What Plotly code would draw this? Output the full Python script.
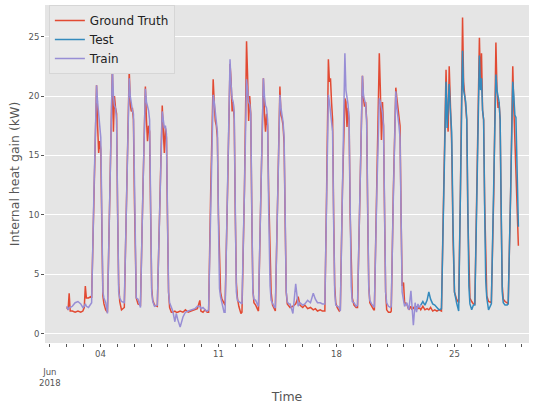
import pandas as pd
import plotly.graph_objects as go

START = pd.Timestamp("2018-06-02")
SPLIT_HOUR = 504  # train / test boundary (hours since START)

# hours since 2018-06-02 00:00
hours = [
    0, 2, 3.5, 5, 8, 12, 16, 20, 23, 25, 26.5, 28, 31, 34, 35.5,
    39, 42.5, 44, 45.5, 47, 48.5, 50, 51.5, 53, 55.5,
    58, 61.5, 65, 66.5, 68, 69.5, 71, 72.5, 74, 75.5, 78,
    82, 85.5, 89, 90.5, 92, 93.5, 95, 96.5, 97.5, 99, 101.5,
    105, 108.5, 112, 113.5, 115, 116.5, 118, 119.5, 121, 122.5, 125,
    129, 132.5, 136, 137.5, 139, 140.5, 142, 143.5, 145, 146.5, 149,
    151, 154, 156, 158, 161.5, 165.5, 169, 173, 177, 182.5, 186, 189.5, 191, 194, 197, 200, 202,
    205, 208.5, 210, 211.5, 213, 214.5, 216, 217.5, 219, 221, 224,
    225.5, 229, 232.5, 234, 235.5, 237, 238.5, 240, 241.5, 243, 245, 248,
    249.5, 253, 256, 257.5, 259, 260.5, 262, 263.5, 265, 266.5, 269, 272,
    273, 276.5, 280, 281.5, 283, 284.5, 286, 287.5, 289.5, 291, 293, 296,
    297, 300.5, 303.5, 305, 306.5, 308, 309.5, 311, 312.5, 314, 316,
    318, 322, 326, 329.5, 332, 336, 339, 343, 347, 351, 354, 357, 361, 364, 367.5,
    370, 372.5, 374, 375.5, 377, 378.5, 380, 381.5, 383, 385, 388,
    389.5, 392.5, 396, 397.5, 399, 400.5, 402, 403.5, 405, 406.5, 409, 412,
    414, 417.5, 421, 422.5, 424, 425.5, 427, 428.5, 430, 431.5, 434, 437,
    438, 441.5, 445, 446.5, 448, 449.5, 451, 452.5, 454, 455.5, 458, 461,
    462, 465, 468.5, 470, 471.5, 473, 474.5, 476, 477.5, 479.5, 481,
    484, 487, 490, 491.5, 493.5, 496, 498, 500, 502, 504, 507, 510, 513, 515.5, 518, 521, 524, 527, 530, 533.5,
    536, 540, 541.5, 543, 544.5, 546, 548, 550, 552, 555, 558,
    560.5, 563.5, 565, 566.5, 568, 569.5, 571, 572.5, 574, 576.5, 579,
    581, 584, 587.5, 589, 590.5, 592, 593.5, 595, 596.5, 598, 600.5,
    604.5, 608, 611, 612.5, 614, 615.5, 617, 618.5, 620, 621.5, 624, 627,
    628.5, 632, 635, 636.5, 638, 639.5, 641, 643,
]

ground_truth = [
    2.2, 2.0, 3.4, 1.9, 1.9, 1.8, 1.9, 1.8, 1.9, 2.2, 4.0, 3.0, 3.0, 3.1, 3.0,
    12, 20.9, 17.5, 15.2, 16.2, 15.5, 9.0, 3.2, 2.5, 2.0,
    1.8, 12, 22.4, 17.0, 20.0, 19.0, 18.5, 10, 4.1, 2.7, 2.0,
    2.2, 12, 22.2, 19.3, 18.7, 19.0, 18.0, 11, 6.7, 3.0, 2.5,
    2.4, 12, 20.8, 18.0, 16.2, 17.5, 17.0, 10, 3.8, 2.8, 2.4,
    2.3, 11.5, 19.2, 17.0, 15.2, 17.3, 16.5, 9.5, 3.5, 2.2, 1.8,
    1.8, 1.9, 1.8, 1.8, 1.9, 1.8, 2.0, 1.8, 1.9, 2.0, 2.1, 2.8, 1.9, 1.8, 2.0, 1.8, 1.8,
    12, 21.4, 19.5, 17.9, 17.5, 16.5, 10, 5.0, 3.5, 2.9, 2.5,
    2.4, 12, 22.7, 21.3, 18.7, 19.5, 18.0, 10, 4.3, 3.0, 2.3, 1.7,
    1.8, 12, 24.6, 21.7, 17.9, 20.0, 18.5, 10, 3.8, 2.6, 2.4, 2.0,
    1.9, 12, 21.5, 18.5, 17.0, 18.5, 17.5, 12, 7.4, 3.5, 2.4, 1.9,
    1.9, 12, 20.8, 18.4, 18.1, 17.5, 16.0, 9.5, 3.5, 2.5, 2.3,
    2.2, 2.3, 2.5, 3.1, 2.4, 2.2, 2.4, 2.1, 2.2, 2.0, 2.1, 1.9, 2.0, 1.9, 1.9,
    12, 23.1, 21.2, 21.5, 19.5, 18.0, 10, 4.0, 2.6, 2.2, 1.9,
    2.0, 12, 19.8, 19.5, 17.4, 19.0, 18.0, 10, 5.2, 3.0, 2.4, 2.2,
    2.2, 12, 21.7, 19.8, 19.1, 19.5, 18.0, 10, 4.0, 2.6, 2.3, 2.0,
    2.0, 12, 23.6, 20.5, 16.3, 19.5, 17.5, 10, 3.5, 2.0, 1.8, 1.8,
    1.9, 12, 20.7, 19.8, 19.0, 18.5, 17.5, 10, 4.0, 4.3, 2.6,
    2.5, 2.0, 2.3, 2.0, 2.2, 2.0, 2.3, 2.1, 2.2, 2.0, 2.3, 2.0, 2.1, 2.0, 2.2, 1.9, 2.0, 1.9, 2.0, 1.9,
    10, 22.2, 18.5, 17.0, 22.5, 19.5, 16, 8, 3.5, 2.9, 2.6,
    12, 26.6, 21.2, 20.0, 19.5, 18.0, 10, 4.9, 3.0, 2.7, 2.5,
    2.5, 12, 24.9, 21.0, 23.6, 18.8, 18.0, 11, 6.6, 3.2, 2.7,
    2.6, 12, 24.5, 20.5, 19.0, 19.5, 18.0, 10, 4.0, 2.9, 2.7, 2.6,
    2.5, 12, 22.5, 19.0, 16.4, 15.3, 12, 7.4,
]

prediction = [
    2.3, 2.0, 2.2, 2.2, 2.3, 2.6, 2.7, 2.5, 2.2, 2.3, 2.5, 2.3, 2.2, 2.5, 2.6,
    12.5, 20.9, 19.5, 18.3, 17.5, 16.5, 10.0, 3.5, 3.0, 2.6,
    1.7, 12.5, 22.4, 20.0, 19.2, 19.0, 18.0, 10.5, 3.5, 3.0, 2.7,
    2.6, 12, 21.5, 20.0, 19.3, 18.8, 18.5, 11, 5.5, 3.0, 2.9,
    2.2, 12, 20.6, 19.5, 19.1, 18.8, 18.0, 10.5, 3.5, 2.7, 2.3,
    2.4, 11.5, 18.7, 18.0, 17.3, 17.5, 16.8, 10, 3.5, 2.6, 2.2,
    1.9, 1.0, 1.7, 1.2, 0.55, 1.4, 1.8, 1.9, 2.0, 2.1, 2.3, 2.3, 2.1, 2.2, 2.0, 1.9, 2.0,
    11, 20.1, 19.5, 18.5, 18.0, 17.0, 9.5, 3.8, 3.1, 2.5, 1.8,
    1.8, 12, 23.1, 21.0, 19.8, 19.5, 18.5, 10.5, 3.5, 2.8, 2.7, 2.6,
    2.5, 12, 21.4, 20.5, 19.5, 19.3, 18.5, 10.5, 3.5, 2.9, 2.8, 2.4,
    2.3, 12, 21.5, 20.0, 19.2, 19.0, 18.0, 10.5, 4.0, 2.8, 2.5, 2.2,
    2.2, 11.5, 20.1, 19.0, 18.4, 17.8, 16.5, 9.5, 3.5, 2.7, 2.5,
    2.5, 1.7, 4.2, 2.3, 2.6, 2.4, 2.5, 2.8, 2.6, 3.4, 2.9, 2.6, 2.6, 2.5, 2.5,
    11, 20.1, 19.5, 18.8, 18.0, 17.0, 9.5, 3.5, 2.4, 2.3, 2.2,
    1.9, 12, 23.6, 20.5, 19.8, 19.3, 18.0, 10.5, 4.0, 2.7, 2.6, 2.3,
    2.4, 12, 21.7, 20.0, 19.5, 19.3, 17.8, 10.5, 3.8, 2.8, 2.5, 2.3,
    2.2, 12, 19.8, 19.5, 19.0, 18.6, 17.5, 10.5, 3.5, 2.6, 2.3, 2.2,
    2.3, 11.5, 20.4, 19.0, 17.9, 17.5, 16.5, 9.5, 3.5, 2.8, 2.3,
    2.6, 2.0, 3.6, 2.2, 0.7, 2.6, 1.8, 2.5, 2.2, 2.4, 2.7, 2.4, 2.8, 3.5, 2.9, 2.5, 2.4, 2.2, 2.0, 2.1,
    9, 21.2, 17.3, 19.5, 21.0, 19.0, 17, 9, 3.5, 2.6, 1.9,
    12, 23.8, 20.5, 19.8, 19.5, 18.0, 10.5, 4.0, 2.5, 2.0, 2.4,
    2.4, 12, 23.4, 20.5, 21.5, 18.8, 18.0, 10.5, 4.5, 3.0, 2.0,
    2.5, 12, 21.8, 20.5, 20.0, 19.5, 18.0, 10.5, 3.5, 2.6, 2.4, 2.4,
    2.5, 12, 21.2, 20.0, 18.4, 18.2, 14, 9.0,
]

tick_dates = ["2018-06-04", "2018-06-11", "2018-06-18", "2018-06-25"]
tick_text = ["04", "11", "18", "25"]
y_ticks = [0, 5, 10, 15, 20, 25]

times = START + pd.to_timedelta(hours, unit="h")
train_i = [i for i, h in enumerate(hours) if h <= SPLIT_HOUR]
test_i = [i for i, h in enumerate(hours) if h >= SPLIT_HOUR]

RED, BLUE, PURPLE = "#E24A33", "#348ABD", "#988ED5"

fig = go.Figure()
fig.add_trace(go.Scatter(x=times, y=ground_truth, mode="lines", name="Ground Truth",
                         line=dict(color=RED, width=1.5)))
fig.add_trace(go.Scatter(x=times[test_i], y=[prediction[i] for i in test_i], mode="lines",
                         name="Test", line=dict(color=BLUE, width=1.5)))
fig.add_trace(go.Scatter(x=times[train_i], y=[prediction[i] for i in train_i], mode="lines",
                         name="Train", line=dict(color=PURPLE, width=1.5)))

TICKFONT = dict(family="DejaVu Sans", size=8.5, color="#555555")

fig.update_layout(
    width=535, height=406,
    margin=dict(l=45, r=6, t=5, b=63),
    paper_bgcolor="white",
    plot_bgcolor="#E5E5E5",
    font=dict(family="DejaVu Sans", color="#333333"),
    showlegend=True,
    legend=dict(x=0.008, y=1.0, xanchor="left", yanchor="top",
                bgcolor="#E9E9E9", bordercolor="#D6D6D6", borderwidth=1,
                font=dict(family="DejaVu Sans", size=12, color="#222222")),
    xaxis=dict(
        type="date",
        range=["2018-05-31 17:06", "2018-06-29 10:06"],
        tickmode="array", tickvals=tick_dates, ticktext=tick_text,
        ticks="outside", ticklen=3, tickcolor="#555555",
        tickfont=TICKFONT,
        showgrid=False, zeroline=False, showline=False,
        minor=dict(ticks="outside", ticklen=3, tickcolor="#555555",
                   tickmode="linear", tick0="2018-06-01", dtick=86400000, showgrid=False),
        title=dict(text="Time", font=dict(family="DejaVu Sans", size=12.5, color="#555555"),
                   standoff=34),
    ),
    yaxis=dict(
        range=[-0.79, 27.66],
        tickmode="array", tickvals=y_ticks,
        ticks="outside", ticklen=3, tickcolor="#555555",
        tickfont=TICKFONT,
        showgrid=True, gridcolor="white", gridwidth=1,
        zeroline=False, showline=False,
        title=dict(text="Internal heat gain (kW)",
                   font=dict(family="DejaVu Sans", size=12.5, color="#555555"),
                   standoff=6),
    ),
)

fig.add_annotation(x="2018-06-01", y=-0.102, xref="x", yref="paper",
                   text="Jun<br>2018", showarrow=False, xanchor="center", yanchor="middle",
                   font=dict(family="DejaVu Sans", size=8.5, color="#555555"))

fig.write_html("out.html")
